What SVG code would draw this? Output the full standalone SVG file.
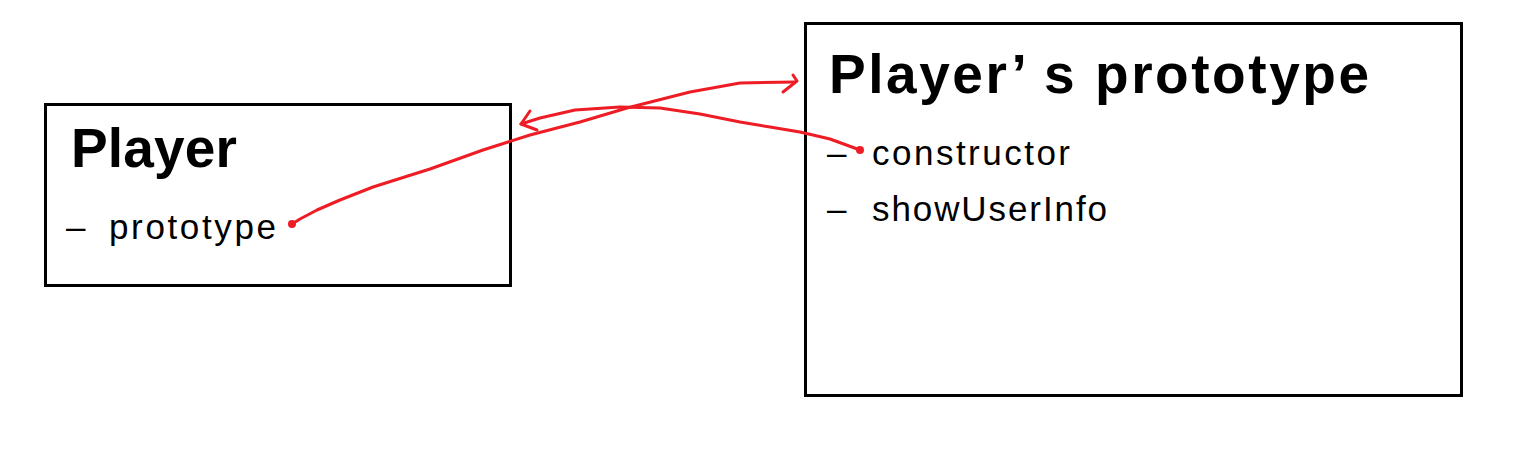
<svg xmlns="http://www.w3.org/2000/svg" width="1535" height="449" viewBox="0 0 1535 449">
<style>
.box{fill:#fff;stroke:#000;stroke-width:3}
.title{font-family:"Liberation Sans",Arial,sans-serif;font-size:55px;font-weight:bold;fill:#000}
.item{font-family:"Liberation Sans",Arial,sans-serif;font-size:35px;fill:#000}
.wire{fill:none;stroke:#ee1c24;stroke-width:3;stroke-linecap:round;stroke-linejoin:round}
.dot{fill:#ee1c24}
</style>
<rect width="1535" height="449" fill="#fff"/>
<g id="player">
<rect class="box" x="45.5" y="104.5" width="465" height="181"/>
<text class="title" x="71" y="167" textLength="166">Player</text>
<text class="item" x="66" y="239" textLength="22">–</text>
<text class="item" x="109" y="239" textLength="167">prototype</text>
</g>
<g id="player-prototype">
<rect class="box" x="805.5" y="23.5" width="656" height="372"/>
<text class="title" x="829" y="93" textLength="540">Player’ s prototype</text>
<text class="item" x="827" y="165" textLength="20">–</text>
<text class="item" x="872" y="165" textLength="198">constructor</text>
<text class="item" x="827" y="221" textLength="20">–</text>
<text class="item" x="872" y="221" textLength="235">showUserInfo</text>
</g>
<g id="connectors">
<path class="wire" d="M292,224 L300,219 L317,210 L340,200 L373,187 L430,169 L483,150 L530,135 L580,122 L627,108 L690,92 L740,83 L795,82"/>
<path class="wire" d="M783,92 L797,81 L793,75"/>
<circle class="dot" cx="292" cy="224" r="4"/>
<path class="wire" d="M860,150 L830,139 L800,132 L770,127 L740,122 L700,114 L660,108 L620,107 L575,110 L540,118 L521,124"/>
<path class="wire" d="M530,111 L521,124 L537,130"/>
<circle class="dot" cx="860" cy="150" r="4"/>
</g>
</svg>
